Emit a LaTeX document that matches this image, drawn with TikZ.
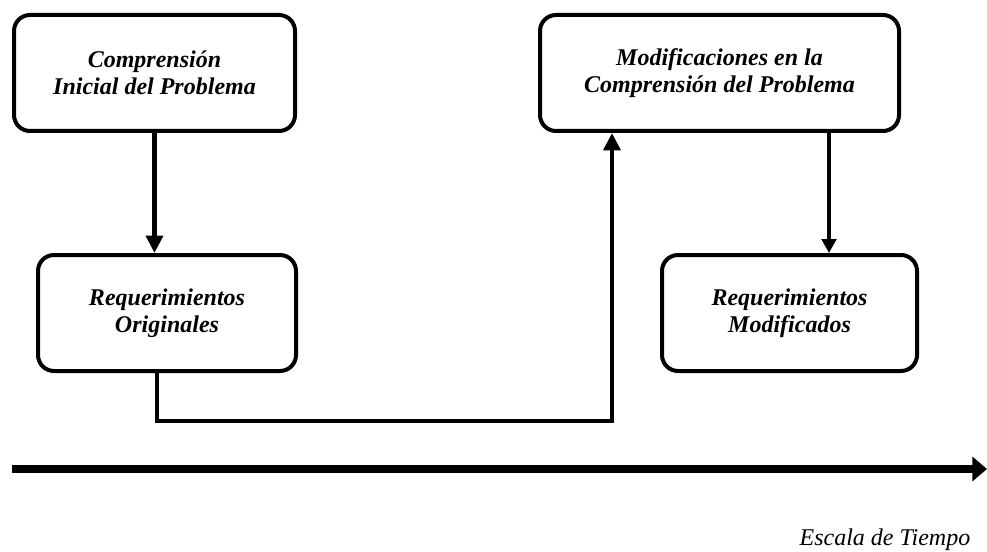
\documentclass[tikz,border=0pt]{standalone}
\usepackage{fontspec}
\setmainfont{Liberation Serif}
\usetikzlibrary{arrows.meta}

\tikzset{
  box/.style={draw, line width=3pt, rounded corners=12pt, minimum height=87pt,
    align=center, font=\bfseries\itshape\fontsize{18pt}{20.5pt}\selectfont},
  flow/.style={line width=3.5pt, -{Triangle[length=13pt,width=12.5pt]}},
  flowthin/.style={line width=2.4pt, -{Triangle[length=10.5pt,width=11pt]}},
  timeline/.style={line width=6pt, -{Triangle[length=11pt,width=18pt]}}
}

\begin{document}
\begin{tikzpicture}[x=0.75pt,y=-0.75pt]
        \useasboundingbox (0,0) rectangle (987,552);
        % boxes
        \node[box, minimum width=210.75pt] (comp) at (154.5,73) {Comprensión\\Inicial del Problema};
        \node[box, minimum width=193.5pt] (reqo) at (167,313) {Requerimientos\\Originales};
        \node[box, minimum width=269.25pt] (modc) at (719.5,73) {Modificaciones en la\\Comprensión del Problema};
        \node[box, minimum width=191.25pt] (reqm) at (789.5,313) {Requerimientos\\Modificados};
        % connectors
        \coordinate (lo) at (157,421); \coordinate (hi) at (612,421); \coordinate (drop) at (829,200);
        \draw[flow] (comp.south) -- (comp.south |- reqo.north);
        \draw[flow, line join=miter] (reqo.south -| lo) -- (lo) -- (hi) -- (modc.south -| hi);
        \draw[flowthin] (modc.south -| drop) -- (reqm.north -| drop);
        % time scale
        \coordinate (t0) at (12,469); \coordinate (t1) at (987,469);
        \draw[timeline] (t0) -- (t1);
        \node[anchor=base east, font=\itshape\fontsize{18pt}{20pt}\selectfont] (scale) at (975,545) {Escala de Tiempo};
    \end{tikzpicture}
\end{document}
